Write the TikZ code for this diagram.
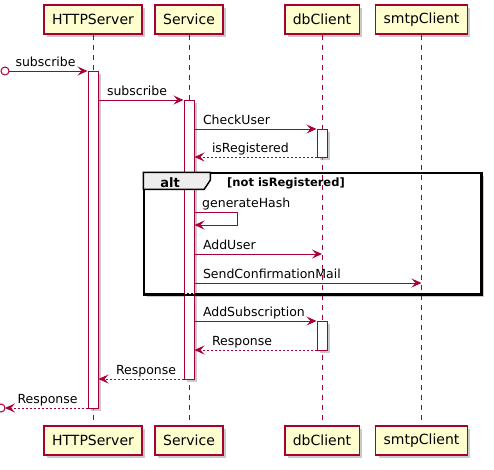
\documentclass[tikz,border=0pt]{standalone}
\usepackage{fontspec}
\setmainfont{DejaVu Sans}
\usetikzlibrary{arrows.meta,shadows}
\definecolor{umlred}{HTML}{A80036}
\definecolor{umlbox}{HTML}{FEFECE}
\definecolor{umltab}{HTML}{EEEEEE}
\begin{document}
\begin{tikzpicture}[x=1pt,y=-1pt,
  dropsh/.style={drop shadow={shadow xshift=3pt,shadow yshift=-3pt,fill=black!35,opacity=.6}},
  part/.style={draw=umlred,fill=umlbox,line width=1.3pt,minimum height=29pt,inner xsep=8pt,font=\fontsize{14}{16}\selectfont,dropsh},
  life/.style={draw=umlred,line width=1pt,dash pattern=on 5pt off 5pt},
  act/.style={draw=umlred,fill=white,line width=1pt,minimum width=10pt,inner sep=0pt,dropsh},
  msg/.style={draw=umlred,line width=1pt,-{Stealth[length=10pt,width=9pt,inset=4pt]}},
  ret/.style={msg,dash pattern=on 2pt off 2pt},
  lbl/.style={font=\fontsize{12.5}{15}\selectfont,inner sep=0pt,anchor=base west,text=black}]
\useasboundingbox (0,0) rectangle (494,469);
% frame behind everything
\node[draw,line width=1.5pt,fill=white,minimum width=337pt,minimum height=121pt,inner sep=0pt,dropsh] (alt) at (312.5,233.5) {};
% participants
\node[part] (hs) at (93,19.5) {HTTPServer};
\node[part] (sv) at (189,19.5) {Service};
\node[part] (db) at (322,19.5) {dbClient};
\node[part] (sm) at (421.5,19.5) {smtpClient};
\node[part] (hs-b) at (93,440.5) {HTTPServer};
\node[part] (sv-b) at (189,440.5) {Service};
\node[part] (db-b) at (322,440.5) {dbClient};
\node[part] (sm-b) at (421.5,440.5) {smtpClient};
\foreach \p in {hs,sv,db,sm} \draw[life] (\p.south) -- (\p-b.north);
% activations
\node[act,minimum height=337pt] (hsA) at (93,239.5) {};
\node[act,minimum height=279pt] (svA) at (189,239.5) {};
\node[act,minimum height=28pt] (dbA) at (322,143) {};
\node[act,minimum height=29pt] (dbB) at (322,335.5) {};
% alt fragment
\draw[line width=1.5pt] (alt.north west) rectangle (alt.south east);
\draw[dash pattern=on 2pt off 2pt] ([yshift=2pt]alt.south west) -- ([yshift=2pt]alt.south east);
\draw[line width=1.5pt,fill=umltab] (alt.north west) -- ++(67,0) -- ++(0,8) -- ++(-6,9) -- ++(-61,0) -- cycle;
\node[font=\bfseries\fontsize{13}{15}\selectfont,anchor=base,inner sep=0pt] (altlbl) at (170,187) {alt};
\node[font=\bfseries\fontsize{11.5}{13}\selectfont,anchor=base west,inner sep=0pt] (altcond) at (227,186) {[not isRegistered]};
% messages
\coordinate (in) at (5,71);
\coordinate (out) at (1,408);
\draw[umlred,line width=1pt] (in) circle (4pt) (out) circle (4pt);
\draw[msg] ([xshift=4pt]in) -- (hsA.west |- in) node[lbl,pos=0,xshift=6pt,yshift=5pt]{subscribe};
\draw[msg] (hsA.east |- 0,100) -- (svA.west |- 0,100) node[lbl,pos=0,xshift=8pt,yshift=5pt]{subscribe};
\draw[msg] (svA.east |- 0,129) -- (dbA.west |- 0,129) node[lbl,pos=0,xshift=8pt,yshift=5pt]{CheckUser};
\draw[ret] (dbA.west |- 0,157) -- (svA.east |- 0,157) node[lbl,pos=1,xshift=17pt,yshift=5pt]{isRegistered};
\draw[msg] (svA.east |- 0,212) -- ++(43,0) -- ++(0,13) -- (svA.east |- 0,225);
\node[lbl] (hashlbl) at (202,207) {generateHash};
\draw[msg] (svA.east |- 0,254) -- (db |- 0,254) node[lbl,pos=0,xshift=8pt,yshift=5pt]{AddUser};
\draw[msg] (svA.east |- 0,283) -- (sm |- 0,283) node[lbl,pos=0,xshift=8pt,yshift=5pt]{SendConfirmationMail};
\draw[msg] (svA.east |- 0,321) -- (dbB.west |- 0,321) node[lbl,pos=0,xshift=8pt,yshift=5pt]{AddSubscription};
\draw[ret] (dbB.west |- 0,350) -- (svA.east |- 0,350) node[lbl,pos=1,xshift=17pt,yshift=5pt]{Response};
\draw[ret] (svA.west |- 0,379) -- (hsA.east |- 0,379) node[lbl,pos=1,xshift=17pt,yshift=5pt]{Response};
\draw[ret] (hsA.west |- out) -- ([xshift=4pt]out) node[lbl,pos=1,xshift=12pt,yshift=5pt]{Response};
\end{tikzpicture}
\end{document}
